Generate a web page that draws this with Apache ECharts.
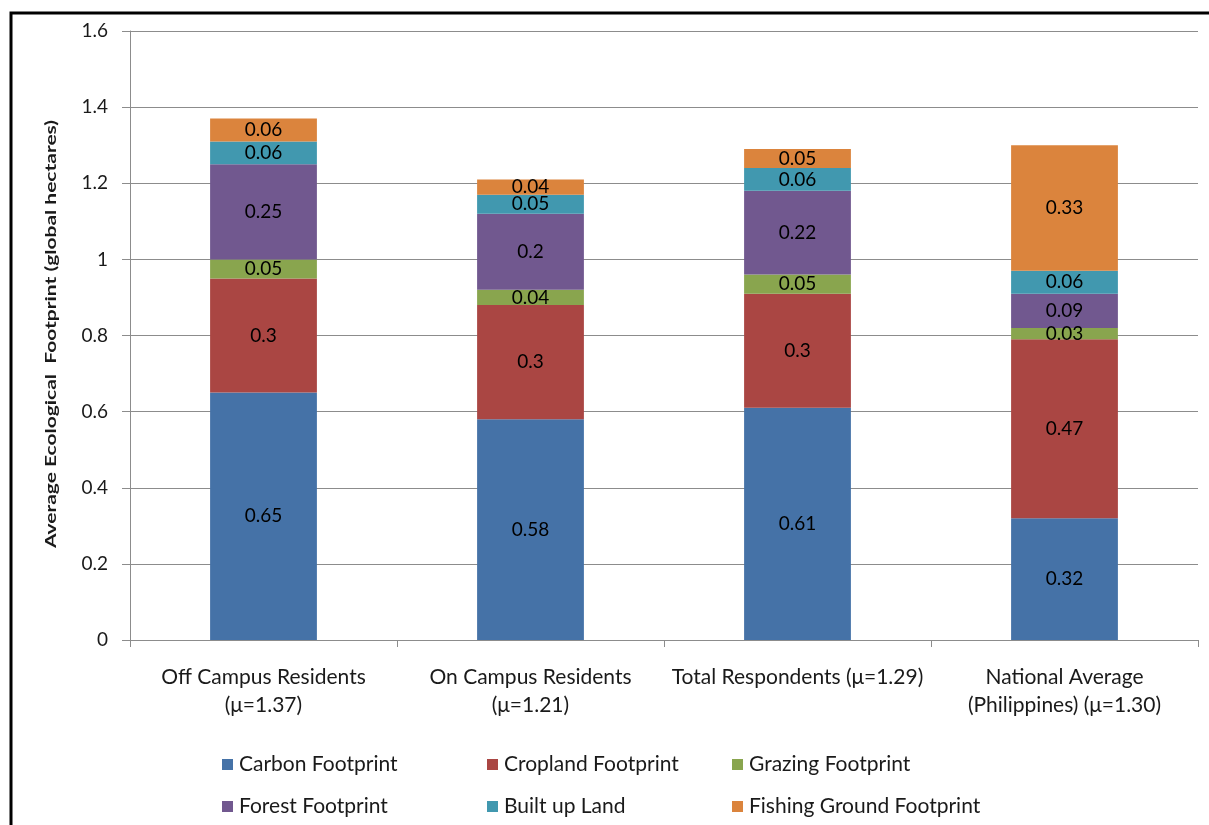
<!DOCTYPE html>
<html>
<head>
<meta charset="utf-8">
<script src="https://cdn.jsdelivr.net/npm/echarts@6/dist/echarts.min.js"></script>
<style>
  html, body { margin: 0; padding: 0; background: #ffffff; }
  #chart { width: 1209px; height: 825px; }
</style>
</head>
<body>
<div id="chart"></div>
<script>
// Groups along the x axis
const categories = [
  'Off Campus Residents\n(μ=1.37)',
  'On Campus Residents\n(μ=1.21)',
  'Total Respondents (μ=1.29)',
  'National Average\n(Philippines) (μ=1.30)'
];

// Footprint components (global hectares), stacked bottom to top
const carbon   = [0.65, 0.58, 0.61, 0.32];
const cropland = [0.30, 0.30, 0.30, 0.47];
const grazing  = [0.05, 0.04, 0.05, 0.03];
const forest   = [0.25, 0.20, 0.22, 0.09];
const builtUp  = [0.06, 0.05, 0.06, 0.06];
const fishing  = [0.06, 0.04, 0.05, 0.33];

const seriesNames = [
  'Carbon Footprint', 'Cropland Footprint', 'Grazing Footprint',
  'Forest Footprint', 'Built up Land', 'Fishing Ground Footprint'
];
const seriesData = [carbon, cropland, grazing, forest, builtUp, fishing];
const colors = ['#4572A7', '#AA4643', '#89A54E', '#71588F', '#4198AF', '#DB843D'];

const yAxisTitle = 'Average Ecological  Footprint (global hectares)';

const FONT = 'Lato, "Open Sans", sans-serif';
const TEXT = '#1a1a1a';

const chart = echarts.init(document.getElementById('chart'), null, { renderer: 'canvas' });

const series = seriesNames.map((name, i) => ({
  name,
  type: 'bar',
  stack: 'total',
  barWidth: '40%',
  data: seriesData[i],
  itemStyle: { color: colors[i] },
  label: {
    show: true,
    position: 'inside',
    color: '#000',
    fontFamily: FONT,
    fontSize: 19,
    formatter: p => String(p.value)
  },
  emphasis: { disabled: true }
}));

function legendColumn(left, names) {
  return {
    orient: 'vertical',
    left,
    top: 749,
    itemWidth: 11,
    itemHeight: 11,
    itemGap: 21,
    icon: 'rect',
    data: names,
    selectedMode: false,
    textStyle: { fontFamily: FONT, fontSize: 21, color: TEXT, padding: [0, 0, 0, 1] }
  };
}

chart.setOption({
  animation: false,
  color: colors,
  grid: { left: 130, right: 11, top: 31, bottom: 185, containLabel: false },
  legend: [
    legendColumn(217, ['Carbon Footprint', 'Forest Footprint']),
    legendColumn(482, ['Cropland Footprint', 'Built up Land']),
    legendColumn(727, ['Grazing Footprint', 'Fishing Ground Footprint'])
  ],
  xAxis: {
    type: 'category',
    data: categories,
    axisLine: { lineStyle: { color: '#8c8c8c', width: 1 } },
    axisTick: { show: true, length: 7, lineStyle: { color: '#8c8c8c' } },
    axisLabel: {
      interval: 0,
      margin: 23,
      color: TEXT,
      fontFamily: FONT,
      fontSize: 21,
      lineHeight: 28,
      align: 'center'
    }
  },
  yAxis: {
    type: 'value',
    min: 0,
    max: 1.6,
    interval: 0.2,
    axisLine: { show: true, lineStyle: { color: '#8c8c8c', width: 1 } },
    axisTick: { show: true, length: 8, lineStyle: { color: '#8c8c8c' } },
    axisLabel: {
      margin: 22,
      color: TEXT,
      fontFamily: FONT,
      fontSize: 19,
      formatter: v => String(Math.round(v * 10) / 10)
    },
    splitLine: { show: true, lineStyle: { color: '#8c8c8c', width: 1 } }
  },
  graphic: [
    {
      type: 'polyline',
      shape: { points: [[11, 830], [11, 13], [1215, 13]] },
      style: { stroke: '#000', lineWidth: 3, fill: null },
      silent: true
    },
    {
      // vertical axis title, widened along its run
      type: 'text',
      x: 51,
      y: 334,
      rotation: Math.PI / 2,
      scaleX: 1.31,
      style: {
        text: yAxisTitle,
        fontFamily: FONT,
        fontWeight: 'bold',
        fontSize: 16,
        fill: TEXT,
        align: 'center',
        verticalAlign: 'middle'
      },
      silent: true
    }
  ],
  series
});
</script>
</body>
</html>
